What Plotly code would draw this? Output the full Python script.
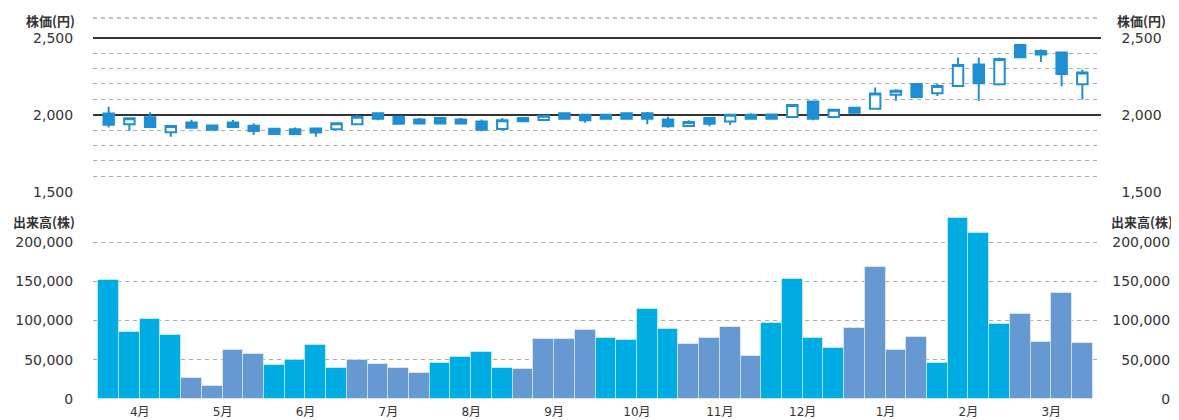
import plotly.graph_objects as go

# ---- data ----
months = ["4月", "5月", "6月", "7月", "8月", "9月", "10月", "11月", "12月", "1月", "2月", "3月"]
weeks_per_month = [4, 4, 4, 4, 4, 4, 4, 4, 4, 4, 4, 4]

open_ = [2007, 1938, 1983, 1886, 1949, 1930, 1950, 1928, 1908, 1906, 1910, 1905,
         1938, 2009, 1987, 1969, 1978, 1969, 1956, 1907, 1978, 1966, 2009, 2000,
         2000, 2009, 2009, 1969, 1927, 1978, 1956, 2000, 2002, 1985, 2086, 1985,
         2045, 2039, 2130, 2200, 2139, 2187, 2326, 2198, 2452, 2413, 2404, 2198]
high = [2052, 1978, 2016, 1927, 1967, 1931, 1966, 1945, 1908, 1917, 1917, 1946,
        1998, 2010, 1988, 1978, 1987, 1978, 1969, 1978, 1979, 1996, 2010, 2001,
        2001, 2010, 2018, 1987, 1964, 1979, 2000, 2009, 2003, 2063, 2087, 2033,
        2046, 2176, 2165, 2201, 2202, 2372, 2372, 2372, 2453, 2424, 2405, 2293]
low = [1917, 1896, 1914, 1857, 1914, 1896, 1916, 1868, 1874, 1874, 1857, 1902,
       1936, 1964, 1941, 1942, 1942, 1942, 1893, 1898, 1956, 1958, 1973, 1947,
       1972, 1972, 1938, 1916, 1925, 1925, 1933, 1972, 1973, 1984, 1964, 1977,
       2005, 2033, 2091, 2109, 2122, 2186, 2089, 2189, 2372, 2343, 2185, 2098]
close = [1935, 1977, 1920, 1927, 1915, 1903, 1920, 1894, 1875, 1875, 1885, 1944,
         1987, 1973, 1942, 1943, 1943, 1943, 1902, 1964, 1957, 1993, 1974, 1964,
         1973, 1973, 1973, 1925, 1953, 1942, 2000, 1973, 1974, 2063, 1973, 2032,
         2013, 2137, 2155, 2115, 2187, 2322, 2204, 2361, 2373, 2391, 2265, 2274]
volume = [151000, 85500, 102000, 82000, 27000, 16000, 62000, 57000, 43000, 50000, 69000, 40000,
          50000, 44500, 40000, 33000, 46000, 53000, 60000, 40000, 38500, 77000, 77000, 87700,
          78000, 75400, 114800, 89000, 70000, 77500, 92000, 54600, 97000, 153000, 78000, 65000,
          90600, 168000, 63000, 79000, 45700, 230000, 212000, 95700, 108000, 73000, 135000, 71500]

price_ticks = [1500, 2000, 2500]
price_minor = [1600, 1700, 1800, 1900, 2100, 2200, 2300, 2400]
volume_ticks = [0, 50000, 100000, 150000, 200000]

price_title = "株価(円)"
volume_title = "出来高(株)"

# ---- derived ----
x = []
month_of_week = []
tick_pos = []
k = 0
for m, n in enumerate(weeks_per_month):
    tick_pos.append(k + (n - 1) / 2)
    for _ in range(n):
        x.append(k)
        month_of_week.append(m)
        k += 1

C_BLUE = "#00ACE4"
C_GRAY = "#6699D1"
bar_colors = [C_BLUE if m % 2 == 0 else C_GRAY for m in month_of_week]
CANDLE = "#1F8FD3"
TXT = "#333333"
FONT = "DejaVu Sans, Noto Sans CJK JP, sans-serif"
CJK = "Noto Sans CJK JP, sans-serif"

fig = go.Figure()

fig.add_trace(go.Bar(
    x=x, y=volume, marker=dict(color=bar_colors, line=dict(color="rgba(255,255,255,0.45)", width=1)),
    yaxis="y2", hoverinfo="skip", showlegend=False))

fig.add_trace(go.Candlestick(
    x=x, open=open_, high=high, low=low, close=close,
    increasing=dict(fillcolor="#ffffff", line=dict(color=CANDLE, width=2)),
    decreasing=dict(fillcolor=CANDLE, line=dict(color=CANDLE, width=2)),
    whiskerwidth=0, yaxis="y", hoverinfo="skip", showlegend=False))

# invisible helper traces for right-side axes
fig.add_trace(go.Scatter(x=x, y=close, yaxis="y3", mode="markers",
                         marker=dict(opacity=0), hoverinfo="skip", showlegend=False))
fig.add_trace(go.Scatter(x=x, y=volume, yaxis="y4", mode="markers",
                         marker=dict(opacity=0), hoverinfo="skip", showlegend=False))

# page body has an 8px default margin: build the figure so that it lands on the window
O = 8
W, H = 1179 - O, 420 - O
ml = 93 - O
mt = 18 - O
mb = H - (399 - O)
mr = W - (1174 - O)
pw = W - ml - mr
ph = H - mt - mb

def px_x(ref):
    return (ref - O - ml) / pw

def px_y(ref):
    return (H - mb - (ref - O)) / ph

xdom_r = px_x(1100.7)
price_dom_bottom = px_y(191.7)
vol_dom_top = px_y(216)
vol_max = (399 - 216) / 157.0 * 200000
price_max = 2500 + (37.7 - 18) / 0.154

tick_font = dict(size=14, family=FONT, color=TXT)

fig.update_layout(
    width=W, height=H,
    margin=dict(l=ml, r=mr, t=mt, b=mb, autoexpand=False),
    paper_bgcolor="white", plot_bgcolor="white",
    bargap=0, boxgap=0.28,
    font=dict(family=FONT, color=TXT),
    xaxis=dict(
        domain=[0, xdom_r], anchor="y2", range=[-0.756, 47.886], automargin=False,
        rangeslider=dict(visible=False),
        tickmode="array", tickvals=tick_pos, ticktext=months,
        ticks="outside", ticklen=2, tickcolor="rgba(0,0,0,0)",
        tickfont=dict(size=12, family=FONT, color=TXT),
        showgrid=False, zeroline=False, showline=False,
    ),
    yaxis=dict(
        domain=[price_dom_bottom, 1], anchor="x", side="left", automargin=False,
        range=[1500, price_max],
        tickmode="array", tickvals=price_ticks, tickformat=",",
        ticks="outside", ticklen=16, tickcolor="rgba(0,0,0,0)",
        tickfont=tick_font,
        showgrid=True, gridcolor="#333333", gridwidth=2,
        minor=dict(tickmode="array", tickvals=price_minor, showgrid=True,
                   gridcolor="#aaaaaa", griddash="4px,4px", gridwidth=1.3),
        zeroline=False, showline=False,
    ),
    yaxis3=dict(
        overlaying="y", matches="y", side="right", anchor="x", automargin=False,
        tickmode="array", tickvals=price_ticks, tickformat=",",
        ticks="outside", ticklen=17, tickcolor="rgba(0,0,0,0)",
        tickfont=tick_font,
        showgrid=False, zeroline=False, showline=False,
    ),
    yaxis2=dict(
        domain=[0, vol_dom_top], anchor="x", side="left", automargin=False,
        range=[0, vol_max],
        tickmode="array", tickvals=volume_ticks, tickformat=",",
        ticks="outside", ticklen=16, tickcolor="rgba(0,0,0,0)",
        tickfont=tick_font,
        showgrid=True, gridcolor="#aaaaaa", griddash="4px,4px", gridwidth=1.3,
        zeroline=False, showline=False,
    ),
    yaxis4=dict(
        overlaying="y2", matches="y2", side="left", anchor="free", position=1, automargin=False,
        tickmode="array", tickvals=volume_ticks, tickformat=",",
        ticks="outside", ticklen=1, tickcolor="rgba(0,0,0,0)",
        tickfont=tick_font,
        showgrid=False, zeroline=False, showline=False,
    ),
    shapes=[dict(type="line", xref="x domain", yref="y domain", x0=0, x1=1, y0=1, y1=1,
                 line=dict(color="#aaaaaa", width=1.3, dash="4px,4px"), layer="below")],
)

title_font = dict(size=13, family=CJK, color=TXT, weight=600)
fig.add_annotation(text=price_title, xref="paper", yref="paper", x=px_x(77), y=px_y(20),
                   xanchor="right", yanchor="middle", showarrow=False, font=title_font)
fig.add_annotation(text=volume_title, xref="paper", yref="paper", x=px_x(77), y=px_y(221),
                   xanchor="right", yanchor="middle", showarrow=False, font=title_font)
fig.add_annotation(text=price_title, xref="paper", yref="paper", x=px_x(1168), y=px_y(20),
                   xanchor="right", yanchor="middle", showarrow=False, font=title_font)
fig.add_annotation(text=volume_title, xref="paper", yref="paper", x=px_x(1175), y=px_y(221),
                   xanchor="right", yanchor="middle", showarrow=False, font=title_font)

fig.write_html("out.html")
